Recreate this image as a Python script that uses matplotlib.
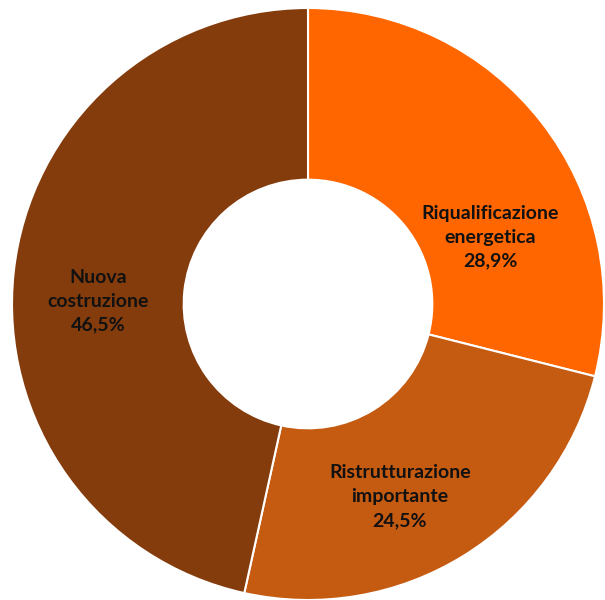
import matplotlib.pyplot as plt

labels = ["Riqualificazione\nenergetica", "Ristrutturazione\nimportante", "Nuova\ncostruzione"]
values = [28.9, 24.5, 46.5]
colors = ["#FF6600", "#C55A11", "#843C0C"]
pct_text = ["28,9%", "24,5%", "46,5%"]

# label positions in axes data units (as Excel placed them)
label_pos = [(0.615, 0.226), (0.31, -0.65), (-0.71, 0.01)]

fig = plt.figure(figsize=(6.05, 6.0), dpi=100)
ax = fig.add_axes([12 / 605, 0.0, 592 / 605, 592 / 600])

wedges, _ = ax.pie(values, colors=colors, startangle=90, counterclock=False,
                   radius=1.0, wedgeprops=dict(width=0.58, edgecolor="white", linewidth=1.5))

for lab, pct, (x, y) in zip(labels, pct_text, label_pos):
    ax.text(x, y, lab + "\n" + pct, ha="center", va="center", fontsize=14,
            fontweight="bold", family=["Lato", "DejaVu Sans"], color="#111111",
            linespacing=1.5)

ax.set_xlim(-1, 1)
ax.set_ylim(-1, 1)
ax.set_aspect("equal")
ax.axis("off")

fig.savefig("out.png", dpi=100)
